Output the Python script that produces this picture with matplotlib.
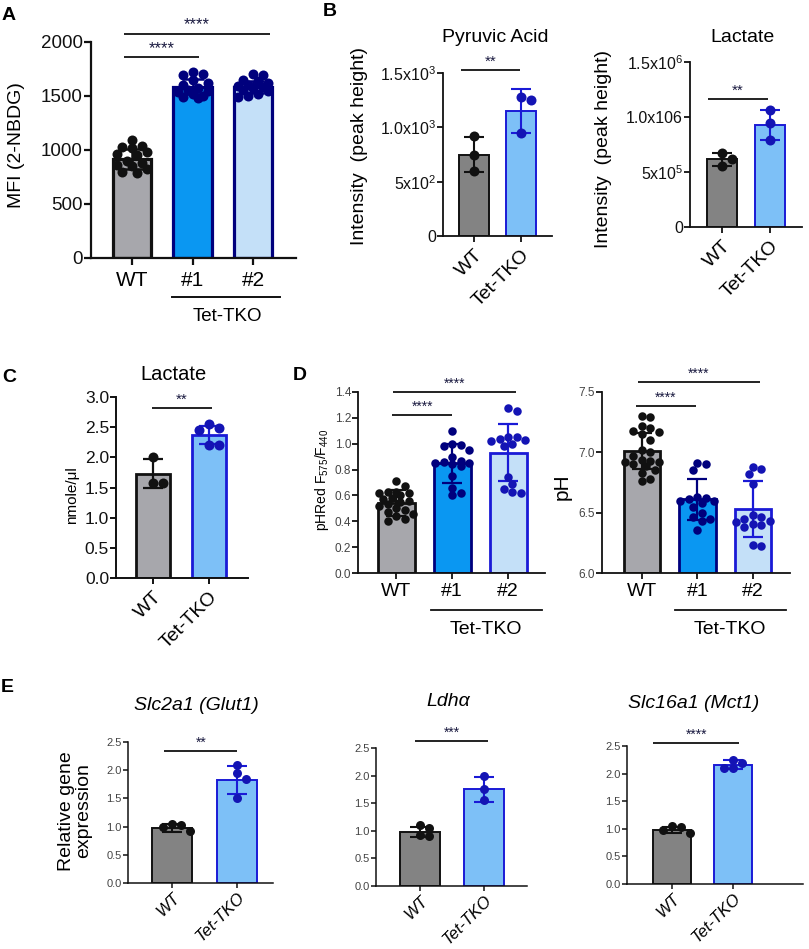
import matplotlib
matplotlib.use('Agg')
import matplotlib.pyplot as plt
from matplotlib.lines import Line2D
import numpy as np

W, H = 809, 949

plt.rcParams.update({
    'font.family': ['Liberation Sans', 'DejaVu Sans'],
    'mathtext.fontset': 'custom',
    'mathtext.rm': 'Liberation Sans',
    'mathtext.it': 'Liberation Sans:italic',
    'mathtext.bf': 'Liberation Sans:bold',
    'axes.spines.top': False,
    'axes.spines.right': False,
    'xtick.direction': 'out',
    'ytick.direction': 'out',
})

WT_GRAY_A = '#a7a7ac'
WT_GRAY = '#838383'
KO1_BLUE = '#0a97f2'
KO2_BLUE = '#c4e0f8'
KO_LIGHT = '#7dc0f7'
NAVY = '#00007d'
BLUE_EDGE = '#1a1ad6'
BLUE_DOT = '#1414b4'

# ---------------- data ----------------
# A: 2-NBDG uptake
a_labels = ['WT', '#1', '#2']
a_mean = [915, 1585, 1580]
a_sd = [90, 70, 55]
a_pts = [
    [1090, 1040, 1030, 1020, 980, 960, 950, 900, 880, 860, 850, 820, 800, 790],
    [1720, 1700, 1690, 1650, 1620, 1600, 1570, 1560, 1550, 1540, 1520, 1500, 1490, 1480],
    [1700, 1690, 1650, 1640, 1620, 1600, 1590, 1580, 1570, 1560, 1550, 1520, 1500, 1490],
]

# B: metabolites (peak height)
b_labels = ['WT', 'Tet-TKO']
pyr_mean = [750, 1150]
pyr_sd = [160, 200]
pyr_pts = [[920, 750, 600], [1280, 1255, 945]]
lac_mean = [0.615e6, 0.925e6]
lac_sd = [0.06e6, 0.135e6]
lac_pts = [[0.675e6, 0.615e6, 0.555e6], [1.06e6, 0.945e6, 0.795e6]]

# C: lactate nmole/ul
c_mean = [1.73, 2.37]
c_sd = [0.24, 0.15]
c_pts = [[2.0, 1.58, 1.58], [2.55, 2.48, 2.46, 2.20, 2.20]]

# D: pHRed ratio and pH
d_labels = ['WT', '#1', '#2']
ratio_mean = [0.54, 0.85, 0.93]
ratio_sd = [0.10, 0.15, 0.22]
ratio_pts = [
    [0.71, 0.67, 0.63, 0.63, 0.62, 0.62, 0.60, 0.58, 0.57, 0.56,
     0.55, 0.53, 0.52, 0.50, 0.49, 0.47, 0.46, 0.44, 0.42, 0.40],
    [1.10, 1.00, 0.99, 0.98, 0.95, 0.90, 0.87, 0.86, 0.85, 0.85,
     0.84, 0.83, 0.75, 0.66, 0.62, 0.60],
    [1.28, 1.25, 1.05, 1.05, 1.04, 1.03, 1.02, 1.00, 0.98, 0.74,
     0.69, 0.65, 0.63, 0.62],
]
ph_mean = [7.01, 6.61, 6.53]
ph_sd = [0.15, 0.17, 0.23]
ph_pts = [
    [7.30, 7.29, 7.22, 7.20, 7.18, 7.17, 7.15, 7.10, 7.02, 7.00, 6.97,
     6.94, 6.93, 6.92, 6.92, 6.90, 6.89, 6.85, 6.83, 6.78, 6.76],
    [6.91, 6.90, 6.85, 6.63, 6.62, 6.61, 6.60, 6.60, 6.58, 6.55, 6.50,
     6.46, 6.45, 6.43, 6.36],
    [6.88, 6.86, 6.82, 6.74, 6.48, 6.46, 6.45, 6.43, 6.42, 6.41, 6.40,
     6.38, 6.23, 6.22],
]

# E: relative gene expression
e_titles = ['Slc2a1 (Glut1)', 'Ldh\u03b1', 'Slc16a1 (Mct1)']
e_mean = [[0.97, 1.82], [0.98, 1.75], [0.98, 2.16]]
e_sd = [[0.07, 0.25], [0.09, 0.22], [0.06, 0.08]]
e_pts = [
    [[1.05, 1.03, 1.00, 0.92], [2.10, 1.95, 1.85, 1.50]],
    [[1.10, 1.05, 0.92, 0.90], [2.00, 1.76, 1.55]],
    [[1.05, 1.03, 0.97, 0.92], [2.25, 2.20, 2.10, 2.10]],
]

fig = plt.figure(figsize=(W / 100, H / 100), dpi=100)


def make_axes(x0, top, x1, bottom):
    return fig.add_axes([x0 / W, 1 - bottom / H, (x1 - x0) / W, (bottom - top) / H])


def ftext(x, y, s, **kw):
    fig.text(x / W, 1 - y / H, s, **kw)


def fline(x0, x1, y, lw=1.3):
    fig.add_artist(Line2D([x0 / W, x1 / W], [1 - y / H, 1 - y / H],
                          transform=fig.transFigure, color='#111111', lw=lw))


def swarm(ax, vals, diam, half_w):
    # greedy beeswarm in pixel space
    bb = ax.get_window_extent()
    xl, yl = ax.get_xlim(), ax.get_ylim()
    sx = bb.width / (xl[1] - xl[0])
    sy = bb.height / (yl[1] - yl[0])
    vals = np.asarray(vals, float)
    offs = np.zeros(len(vals))
    placed = []
    step = diam * 0.5
    max_px = half_w * sx
    for i in np.argsort(-vals):
        y = vals[i] * sy
        best, best_ov = 0.0, None
        for k in range(0, 30):
            for sgn in ([1] if k == 0 else [1, -1]):
                c = sgn * k * step
                if abs(c) > max_px:
                    continue
                ov = min([np.hypot(c - px, y - py) for px, py in placed] + [1e9])
                if ov >= diam * 0.9:
                    best, best_ov = c, ov
                    break
                if best_ov is None or ov > best_ov:
                    best, best_ov = c, ov
            else:
                continue
            break
        placed.append((best, y))
        offs[i] = best / sx
    return offs


def bar_panel(ax, means, sds, pts, fills, edges, dotc, width, edge_lw,
              dot_size, capsize, err_lw):
    xs = np.arange(len(means))
    ax.bar(xs, means, width=width, color=fills, edgecolor=edges,
           linewidth=edge_lw, zorder=1)
    for x, m, s, p, e, d in zip(xs, means, sds, pts, edges, dotc):
        ax.errorbar(x, m, yerr=s, fmt='none', ecolor=e, elinewidth=err_lw,
                    capsize=capsize, capthick=err_lw, zorder=2)
        offs = swarm(ax, p, dot_size, width / 2)
        ax.scatter(x + offs, p, s=(dot_size / 1.389) ** 2, color=d,
                   zorder=3, linewidths=0, clip_on=False)
    ax.set_xticks(xs)


def style(ax, spine_lw, tick_size, tick_color='#111111', tick_len=4):
    for sp in ('left', 'bottom'):
        ax.spines[sp].set_linewidth(spine_lw)
        ax.spines[sp].set_color('#111111')
    ax.tick_params(axis='both', width=spine_lw, length=tick_len,
                   color='#111111')
    ax.tick_params(axis='y', labelsize=tick_size, labelcolor=tick_color, pad=1)


def sig(ax, x0, x1, y, stars, fs=11, dy_px=1.0, lw=1.3):
    ax.plot([x0, x1], [y, y], color='#111111', lw=lw, clip_on=False,
            solid_capstyle='butt')
    ax.annotate(stars, xy=((x0 + x1) / 2, y), xytext=(0, dy_px),
                textcoords='offset points', ha='center', va='bottom',
                fontsize=fs, color='#1a1a40', annotation_clip=False)


# ---------------- panel A ----------------
axA = make_axes(91, 42, 296, 258)
axA.set_xlim(-0.68, 2.71)
axA.set_ylim(0, 2000)
bar_panel(axA, a_mean, a_sd, a_pts, [WT_GRAY_A, KO1_BLUE, KO2_BLUE],
          ['#111111', NAVY, NAVY], ['#111111', NAVY, NAVY], 0.64, 2.3,
          10, 8, 1.8)
style(axA, 1.6, 13.5, tick_len=5)
axA.set_yticks([0, 500, 1000, 1500, 2000])
axA.set_xticklabels(a_labels, fontsize=15)
axA.tick_params(axis='x', pad=4)
sig(axA, -0.13, 1.1, 1860, '****', fs=12)
sig(axA, -0.13, 2.28, 2074, '****', fs=12)
ftext(17, 145, 'MFI (2-NBDG)', rotation=90, ha='center', va='center', fontsize=14)
fline(172, 280, 297, lw=1.4)
ftext(227, 317, 'Tet-TKO', ha='center', va='center', fontsize=13.5)

# ---------------- panel B ----------------
axB1 = make_axes(443, 73, 552, 236)
axB1.set_xlim(-0.66, 1.66)
axB1.set_ylim(0, 1500)
bar_panel(axB1, pyr_mean, pyr_sd, pyr_pts, [WT_GRAY, KO_LIGHT],
          ['#111111', BLUE_EDGE], ['#111111', BLUE_DOT], 0.62, 1.4,
          10, 7, 1.5)
style(axB1, 1.3, 11.5)
axB1.set_yticks([0, 500, 1000, 1500])
axB1.set_yticklabels(['0', '5x10$^2$', '1.0x10$^3$', '1.5x10$^3$'])
axB1.set_xticklabels(b_labels, fontsize=14, rotation=45, ha='right',
                     rotation_mode='anchor')
sig(axB1, -0.28, 0.98, 1528, '**', fs=11)
ftext(495, 38, 'Pyruvic Acid', ha='center', va='center', fontsize=14)
ftext(360, 146, 'Intensity  (peak height)', rotation=90, ha='center',
      va='center', fontsize=14)

axB2 = make_axes(690, 62, 802, 227)
axB2.set_xlim(-0.67, 1.67)
axB2.set_ylim(0, 1.5e6)
bar_panel(axB2, lac_mean, lac_sd, lac_pts, [WT_GRAY, KO_LIGHT],
          ['#111111', BLUE_EDGE], ['#111111', BLUE_DOT], 0.62, 1.4,
          10, 7, 1.5)
style(axB2, 1.3, 11.5)
axB2.set_yticks([0, 0.5e6, 1.0e6, 1.5e6])
axB2.set_yticklabels(['0', '5x10$^5$', '1.0x106', '1.5x10$^6$'])
axB2.set_xticklabels(b_labels, fontsize=14, rotation=45, ha='right',
                     rotation_mode='anchor')
sig(axB2, -0.29, 0.96, 1.16e6, '**', fs=11)
ftext(742, 38, 'Lactate', ha='center', va='center', fontsize=14)
ftext(603, 149, 'Intensity  (peak height)', rotation=90, ha='center',
      va='center', fontsize=14)

# ---------------- panel C ----------------
axC = make_axes(116, 397, 248, 578)
axC.set_xlim(-0.66, 1.70)
axC.set_ylim(0, 3.0)
bar_panel(axC, c_mean, c_sd, c_pts, [WT_GRAY_A, KO_LIGHT],
          ['#111111', BLUE_EDGE], ['#111111', BLUE_DOT], 0.62, 2.0,
          10, 7, 1.6)
style(axC, 1.4, 12.5)
axC.set_yticks(np.arange(0, 3.01, 0.5))
axC.set_yticklabels([f'{v:.1f}' for v in np.arange(0, 3.01, 0.5)])
axC.set_xticklabels(b_labels, fontsize=14, rotation=45, ha='right',
                    rotation_mode='anchor')
sig(axC, -0.02, 1.05, 2.82, '**', fs=11)
ftext(173, 375, 'Lactate', ha='center', va='center', fontsize=14.5)
ftext(72, 495, 'nmole/\u03bcl', rotation=90, ha='center', va='center',
      fontsize=11)

# ---------------- panel D ----------------
axD1 = make_axes(358, 392, 545, 573)
axD1.set_xlim(-0.68, 2.66)
axD1.set_ylim(0, 1.4)
bar_panel(axD1, ratio_mean, ratio_sd, ratio_pts, [WT_GRAY_A, KO1_BLUE, KO2_BLUE],
          ['#111111', NAVY, BLUE_EDGE], ['#111111', NAVY, BLUE_DOT], 0.66, 2.0,
          8.5, 7, 1.6)
style(axD1, 1.3, 8.5, tick_color='#444444')
axD1.set_yticks(np.arange(0, 1.41, 0.2))
axD1.set_yticklabels([f'{v:.1f}' for v in np.arange(0, 1.41, 0.2)])
axD1.set_xticklabels(d_labels, fontsize=14)
sig(axD1, -0.07, 1.0, 1.22, '****', fs=10)
sig(axD1, -0.05, 2.14, 1.40, '****', fs=10)
ftext(322, 480, 'pHRed F$_{575}$/F$_{440}$', rotation=90, ha='center',
      va='center', fontsize=10)
fline(431, 542, 610)
ftext(486, 630, 'Tet-TKO', ha='center', va='center', fontsize=14)

axD2 = make_axes(602, 392, 790, 573)
axD2.set_xlim(-0.72, 2.67)
axD2.set_ylim(6.0, 7.5)
bar_panel(axD2, ph_mean, ph_sd, ph_pts, [WT_GRAY_A, KO1_BLUE, KO2_BLUE],
          ['#111111', NAVY, BLUE_EDGE], ['#111111', NAVY, BLUE_DOT], 0.66, 2.0,
          8.5, 7, 1.6)
for b in axD2.patches:
    b.set_y(6.0)
    b.set_height(b.get_height() - 6.0)
style(axD2, 1.3, 8.5, tick_color='#444444')
axD2.set_yticks([6.0, 6.5, 7.0, 7.5])
axD2.set_yticklabels(['6.0', '6.5', '7.0', '7.5'])
axD2.set_xticklabels(d_labels, fontsize=14)
sig(axD2, -0.11, 0.97, 7.38, '****', fs=10)
sig(axD2, -0.07, 2.13, 7.58, '****', fs=10)
ftext(562, 487, 'pH', rotation=90, ha='center', va='center', fontsize=15)
fline(675, 786, 610)
ftext(730, 630, 'Tet-TKO', ha='center', va='center', fontsize=14)

# ---------------- panel E ----------------
e_boxes = [(128, 742, 273, 883, -0.68, 1.55),
           (376, 748, 527, 886, -0.69, 1.67),
           (627, 746, 803, 884, -0.74, 2.15)]
e_sig = [(-0.12, 1.0, 2.34, '**'), (-0.08, 1.06, 2.63, '***'),
         (-0.31, 1.1, 2.55, '****')]
e_title_pos = [(196, 705), (448, 702), (694, 703)]
for k in range(3):
    x0, top, x1, bot, xl0, xl1 = e_boxes[k]
    ax = make_axes(x0, top, x1, bot)
    ax.set_xlim(xl0, xl1)
    ax.set_ylim(0, 2.5)
    bar_panel(ax, e_mean[k], e_sd[k], e_pts[k], [WT_GRAY, KO_LIGHT],
              ['#111111', BLUE_EDGE], ['#111111', BLUE_DOT], 0.62, 1.4,
              9, 7, 1.5)
    style(ax, 1.1, 8, tick_color='#444444', tick_len=3.5)
    ax.set_yticks(np.arange(0, 2.51, 0.5))
    ax.set_yticklabels([f'{v:.1f}' for v in np.arange(0, 2.51, 0.5)])
    ax.set_xticklabels(['WT', 'Tet-TKO'], fontsize=12, style='italic',
                       rotation=45, ha='right', rotation_mode='anchor')
    ax.tick_params(axis='x', pad=1.5)
    s0, s1, sy, st = e_sig[k]
    sig(ax, s0, s1, sy, st, fs=10)
    tx, ty = e_title_pos[k]
    ftext(tx, ty, e_titles[k], ha='center', va='center', fontsize=14,
          style='italic')
ftext(75, 811, 'Relative gene\nexpression', rotation=90, ha='center',
      va='center', fontsize=14, linespacing=0.95)

# panel letters
for letter, (lx, ly) in zip('ABCDE', [(9, 16), (330, 12), (9, 378),
                                      (300, 375), (7, 688)]):
    ftext(lx, ly, letter, ha='center', va='center', fontsize=14,
          fontweight='bold')

fig.savefig('out.png', dpi=100)
